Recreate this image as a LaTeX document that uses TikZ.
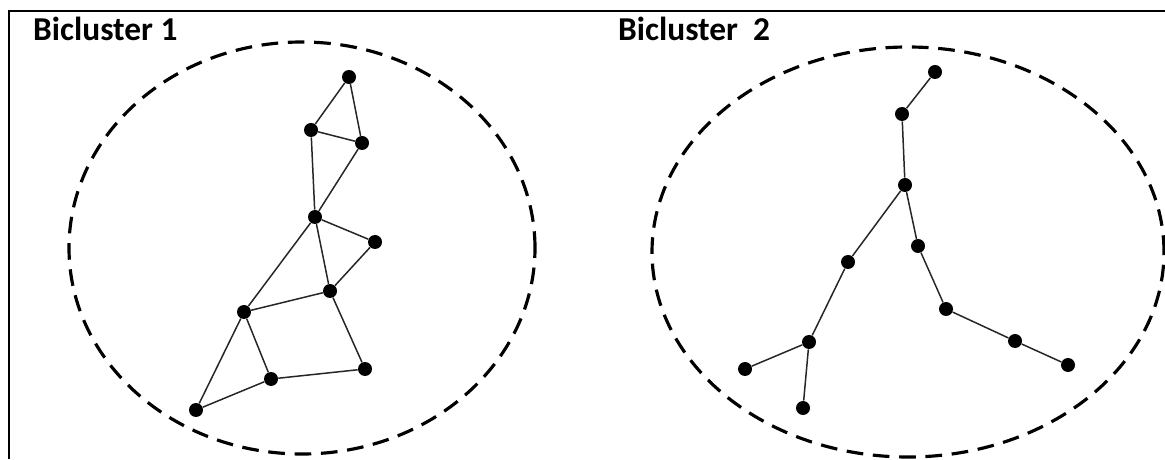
\documentclass[tikz,border=0pt]{standalone}
\usepackage{fontspec}
\setmainfont{Carlito}
\usetikzlibrary{calc}

\begin{document}
\begin{tikzpicture}[
		vert/.style={circle, fill=black, inner sep=0pt, minimum size=0.28cm},
		edge/.style={line width=0.85pt, color=black!85},
		cluster/.style={line width=1.8pt, dash pattern=on 9.5pt off 5.5pt},
		title/.style={anchor=west, font=\bfseries\fontsize{19}{21}\selectfont}
	]
		%%%%% START %%%%%
		\useasboundingbox (0, 0) rectangle (23.3, 9.18);
		
		% frame
		\draw[line width=1.1pt] (0.18, 0) -- (0.18, 8.96) -- (23.3, 8.96);
		
		\node[title] (t1) at (0.54, 8.6) {Bicluster 1};
		\node[title] (t2) at (12.24, 8.6) {Bicluster\ \ 2};
		
		\draw[cluster] (6.04, 4.22) ellipse (4.66 and 4.12);
		\draw[cluster] (18.16, 4.14) ellipse (5.12 and 4.10);
		
		% first bicluster
		\node[vert] (a1) at (6.98, 7.64) {};
		\node[vert] (a2) at (6.22, 6.58) {};
		\node[vert] (a3) at (7.24, 6.32) {};
		\node[vert] (a4) at (6.30, 4.84) {};
		\node[vert] (a5) at (7.50, 4.34) {};
		\node[vert] (a6) at (6.60, 3.36) {};
		\node[vert] (a7) at (4.88, 2.94) {};
		\node[vert] (a8) at (5.42, 1.60) {};
		\node[vert] (a9) at (7.30, 1.80) {};
		\node[vert] (a10) at (3.92, 0.98) {};
		
		\draw[edge] (a1) -- (a2) -- (a3) -- (a1);
		\draw[edge] (a2) -- (a4) -- (a3);
		\draw[edge] (a4) -- (a5) -- (a6) -- (a4) -- (a7);
		\draw[edge] (a7) -- (a6) -- (a9) -- (a8) -- (a7) -- (a10) -- (a8);
		
		% second bicluster
		\node[vert] (b1) at (18.70, 7.74) {};
		\node[vert] (b2) at (18.04, 6.90) {};
		\node[vert] (b3) at (18.10, 5.48) {};
		\node[vert] (b4) at (18.36, 4.26) {};
		\node[vert] (b5) at (16.96, 3.94) {};
		\node[vert] (b6) at (18.92, 3.00) {};
		\node[vert] (b7) at (16.18, 2.34) {};
		\node[vert] (b8) at (20.30, 2.36) {};
		\node[vert] (b9) at (14.90, 1.80) {};
		\node[vert] (b10) at (21.36, 1.88) {};
		\node[vert] (b11) at (16.06, 1.02) {};
		
		\draw[edge] (b1) -- (b2) -- (b3) -- (b4) -- (b6) -- (b8) -- (b10);
		\draw[edge] (b3) -- (b5) -- (b7) -- (b9);
		\draw[edge] (b7) -- (b11);
		
		%%%%% END %%%%%
	\end{tikzpicture}
\end{document}
